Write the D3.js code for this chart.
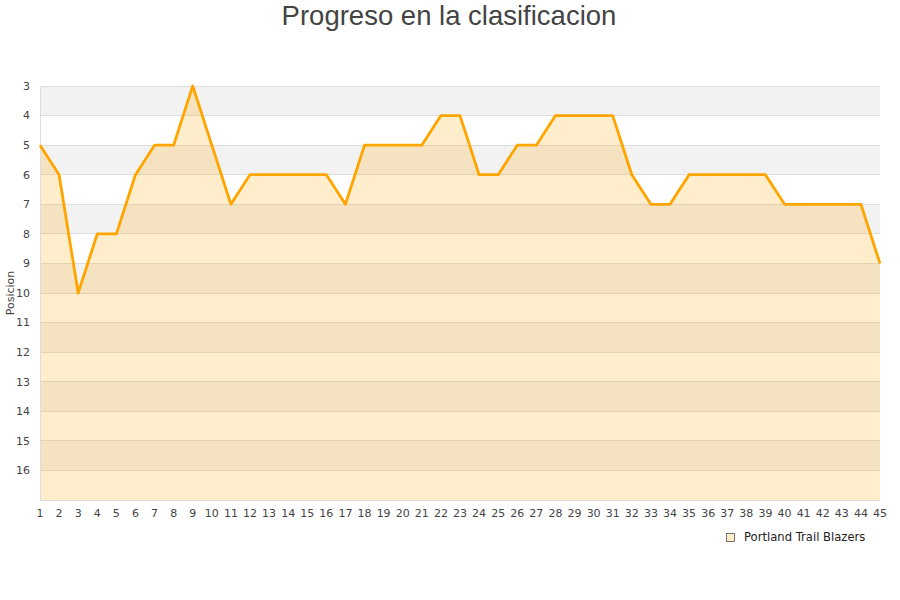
<!DOCTYPE html>
<html><head><meta charset="utf-8">
<script src="https://cdn.jsdelivr.net/npm/d3@7"></script>
<style>body{margin:0;background:#fff;font-family:"DejaVu Sans",sans-serif;}</style>
</head><body><svg id="c" width="900" height="600"></svg>
<script>
const jornadas = d3.range(1, 46);
const posiciones = [5,6,10,8,8,6,5,5,3,5,7,6,6,6,6,6,7,5,5,5,5,4,4,6,6,5,5,4,4,4,4,6,7,7,6,6,6,6,6,7,7,7,7,7,9];
const yTicks = d3.range(3, 17);
const titulo = "Progreso en la clasificacion";
const serie = "Portland Trail Blazers";

const svg = d3.select("#c");
const m = {l:40, r:20, t:86, b:100};
const W = 900, H = 600;
const x = d3.scaleLinear().domain([1,45]).range([m.l, W-m.r]);
const y = d3.scaleLinear().domain([3,17]).range([m.t, H-m.b]);

const bands = d3.range(3, 17);
svg.append("g").selectAll("rect").data(bands).join("rect")
  .attr("x", x(1)).attr("width", x(45)-x(1))
  .attr("y", d=>y(d)).attr("height", d=>y(d+1)-y(d))
  .attr("fill", d=> (d-3)%2===0 ? "#f2f2f2" : "#ffffff");
svg.append("g").selectAll("line").data(yTicks).join("line")
  .attr("x1", x(1)).attr("x2", x(45)).attr("y1", d=>y(d)).attr("y2", d=>y(d))
  .attr("stroke", "#dddddd").attr("stroke-width", 1).attr("shape-rendering","crispEdges");

const data = jornadas.map((j,i)=>({j, p: posiciones[i]}));
svg.append("path").datum(data)
  .attr("d", d3.area().x(d=>x(d.j)).y0(y(17)).y1(d=>y(d.p)))
  .attr("fill", "rgba(255,165,0,0.2)");

svg.append("line").attr("x1", x(1)).attr("x2", x(1)).attr("y1", y(3)).attr("y2", y(17))
  .attr("stroke","#dddddd").attr("shape-rendering","crispEdges");
svg.append("line").attr("x1", x(1)).attr("x2", x(45)).attr("y1", y(17)).attr("y2", y(17))
  .attr("stroke","#dddddd").attr("shape-rendering","crispEdges");

svg.append("path").datum(data)
  .attr("d", d3.line().x(d=>x(d.j)).y(d=>y(d.p)))
  .attr("fill","none").attr("stroke","#ffa500").attr("stroke-width",2.8).attr("stroke-linejoin","round");

svg.append("g").selectAll("text").data(yTicks).join("text")
  .attr("x", 30).attr("y", d=>y(d)).attr("dy","0.35em").attr("text-anchor","end")
  .attr("font-size", 11).attr("fill","#444").text(d=>d);
svg.append("g").selectAll("text").data(jornadas).join("text")
  .attr("x", d=>x(d)).attr("y", 517).attr("text-anchor","middle")
  .attr("font-size", 11).attr("fill","#444").text(d=>d);

svg.append("text").attr("x", 449).attr("y", 25).attr("text-anchor","middle")
  .attr("font-size", 27.5).attr("fill","#444").attr("font-family","Liberation Sans, Arial, sans-serif").text(titulo);

svg.append("text").attr("transform","translate(14,293) rotate(-90)").attr("text-anchor","middle")
  .attr("font-size", 11).attr("fill","#444").text("Posicion");

svg.append("rect").attr("x", 726.5).attr("y", 533.5).attr("width", 8).attr("height", 8)
  .attr("fill","rgba(255,165,0,0.2)").attr("stroke","#555").attr("stroke-width",0.8);
svg.append("text").attr("x", 744).attr("y", 541).attr("font-size", 11.6).attr("fill","#222").text(serie);
</script></body></html>
